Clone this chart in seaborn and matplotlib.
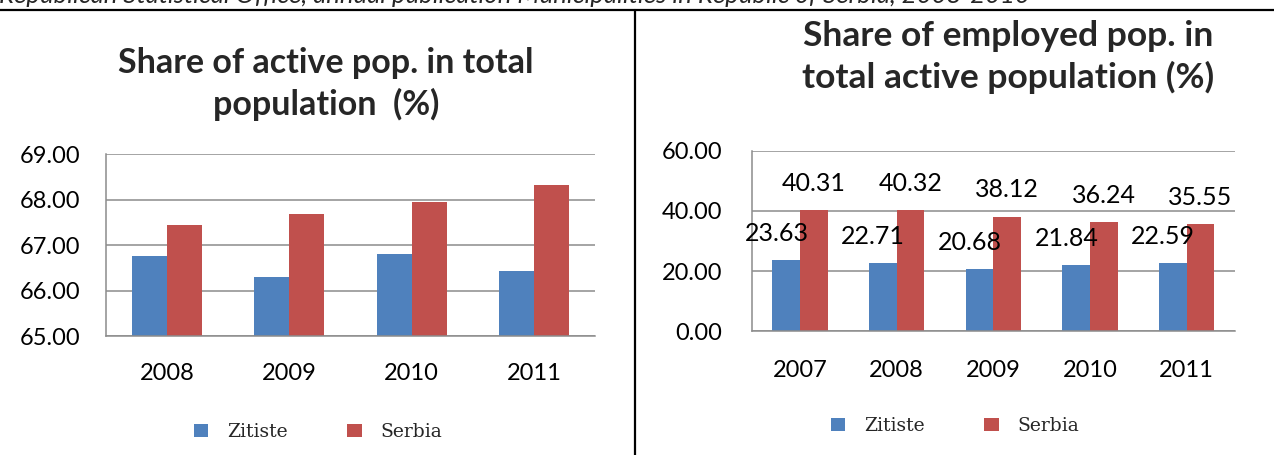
import matplotlib
matplotlib.use("Agg")
import matplotlib.pyplot as plt
from matplotlib.patches import Patch
from matplotlib.ticker import FormatStrFormatter
import seaborn as sns
import pandas as pd

# ---- data ----
years_active = ["2008", "2009", "2010", "2011"]
zitiste_active = [66.77, 66.31, 66.80, 66.43]
serbia_active = [67.45, 67.68, 67.96, 68.33]

years_employed = ["2007", "2008", "2009", "2010", "2011"]
zitiste_employed = [23.63, 22.71, 20.68, 21.84, 22.59]
serbia_employed = [40.31, 40.32, 38.12, 36.24, 35.55]

series_names = ["Zitiste", "Serbia"]
title_left = "Share of active pop. in total\npopulation  (%)"
title_right = "Share of employed pop. in\ntotal active population (%)"
source_text = "Republican Statistical Office, annual publication Municipalities in Republic of Serbia, 2008-2010"

BLUE = "#4F81BD"
RED = "#C0504D"
GRID = "#8C8C8C"

sns.set_theme(style="white")
plt.rcParams["font.family"] = ["Lato", "DejaVu Sans"]

W, H = 1274, 455
fig = plt.figure(figsize=(W / 100, H / 100), dpi=100)
fig.patch.set_facecolor("white")


def box(x0, y0, x1, y1):
    return [x0 / W, 1 - y1 / H, (x1 - x0) / W, (y1 - y0) / H]


def long_df(years, a, b):
    return pd.DataFrame({
        "year": years * 2,
        "value": list(a) + list(b),
        "region": [series_names[0]] * len(years) + [series_names[1]] * len(years),
    })


def style_axes(ax, ylim, yticks, ypad, xpad):
    ax.set_ylim(*ylim)
    ax.set_yticks(yticks)
    ax.yaxis.set_major_formatter(FormatStrFormatter("%.2f"))
    ax.yaxis.grid(True, color=GRID, lw=1.1)
    ax.set_axisbelow(True)
    for s in ["top", "right"]:
        ax.spines[s].set_visible(False)
    for s in ["left", "bottom"]:
        ax.spines[s].set_color(GRID)
        ax.spines[s].set_linewidth(1.1)
    ax.tick_params(axis="both", length=0, labelsize=17, colors="black")
    ax.tick_params(axis="y", pad=ypad)
    ax.tick_params(axis="x", pad=xpad)
    ax.set_xlabel("")
    ax.set_ylabel("")


# ---- left chart ----
ax1 = fig.add_axes(box(105.7, 154.3, 595.3, 336.3))
sns.barplot(data=long_df(years_active, zitiste_active, serbia_active),
            x="year", y="value", hue="region", palette=[BLUE, RED],
            saturation=1, width=0.57, legend=False, linewidth=0, ax=ax1)
ax1.set_xlim(-0.5, len(years_active) - 0.5)
style_axes(ax1, (65, 69), [65, 66, 67, 68, 69], 18, 19)

# ---- right chart ----
ax2 = fig.add_axes(box(751.7, 151, 1235, 331))
sns.barplot(data=long_df(years_employed, zitiste_employed, serbia_employed),
            x="year", y="value", hue="region", palette=[BLUE, RED],
            saturation=1, width=0.57, legend=False, linewidth=0, ax=ax2)
ax2.set_xlim(-0.5, len(years_employed) - 0.5)
style_axes(ax2, (0, 60), [0, 20, 40, 60], 21, 21)

for cont, dx in zip(ax2.containers, [-7, 0]):
    anns = ax2.bar_label(cont, fmt="%.2f", padding=11, fontsize=18, color="black")
    for a in anns:
        a.xyann = (dx, 11)

# ---- titles ----
fig.text(326 / W, 1 - 84 / H, title_left, ha="center", va="center",
         fontsize=24.5, fontweight="bold", linespacing=1.3)
fig.text(1008 / W, 1 - 57 / H, title_right, ha="center", va="center",
         fontsize=25.5, fontweight="bold", linespacing=1.3)

# ---- legends ----
handles = [Patch(facecolor=BLUE, edgecolor="none"), Patch(facecolor=RED, edgecolor="none")]
legend_kw = dict(loc="center", ncol=2, frameon=False, handlelength=0.75,
                 handleheight=0.75, handletextpad=1.0, columnspacing=3.2,
                 prop={"family": "DejaVu Serif", "size": 13.5})
fig.legend(handles, series_names, bbox_to_anchor=(318 / W, 1 - 432 / H), **legend_kw)
fig.legend(handles, series_names, bbox_to_anchor=(955 / W, 1 - 426 / H), **legend_kw)

# ---- frame lines and source text ----
fig.add_artist(plt.Line2D([0, 1], [1 - 9.5 / H, 1 - 9.5 / H], transform=fig.transFigure,
                          color="black", lw=1.6))
fig.add_artist(plt.Line2D([635 / W, 635 / W], [0, 1 - 9.5 / H], transform=fig.transFigure,
                          color="black", lw=1.6))
fig.text(1030 / W, 1 - 3.0 / H, source_text, ha="right", va="baseline",
         fontsize=18.5, style="italic")

fig.savefig("out.png", dpi=100, facecolor="white")
